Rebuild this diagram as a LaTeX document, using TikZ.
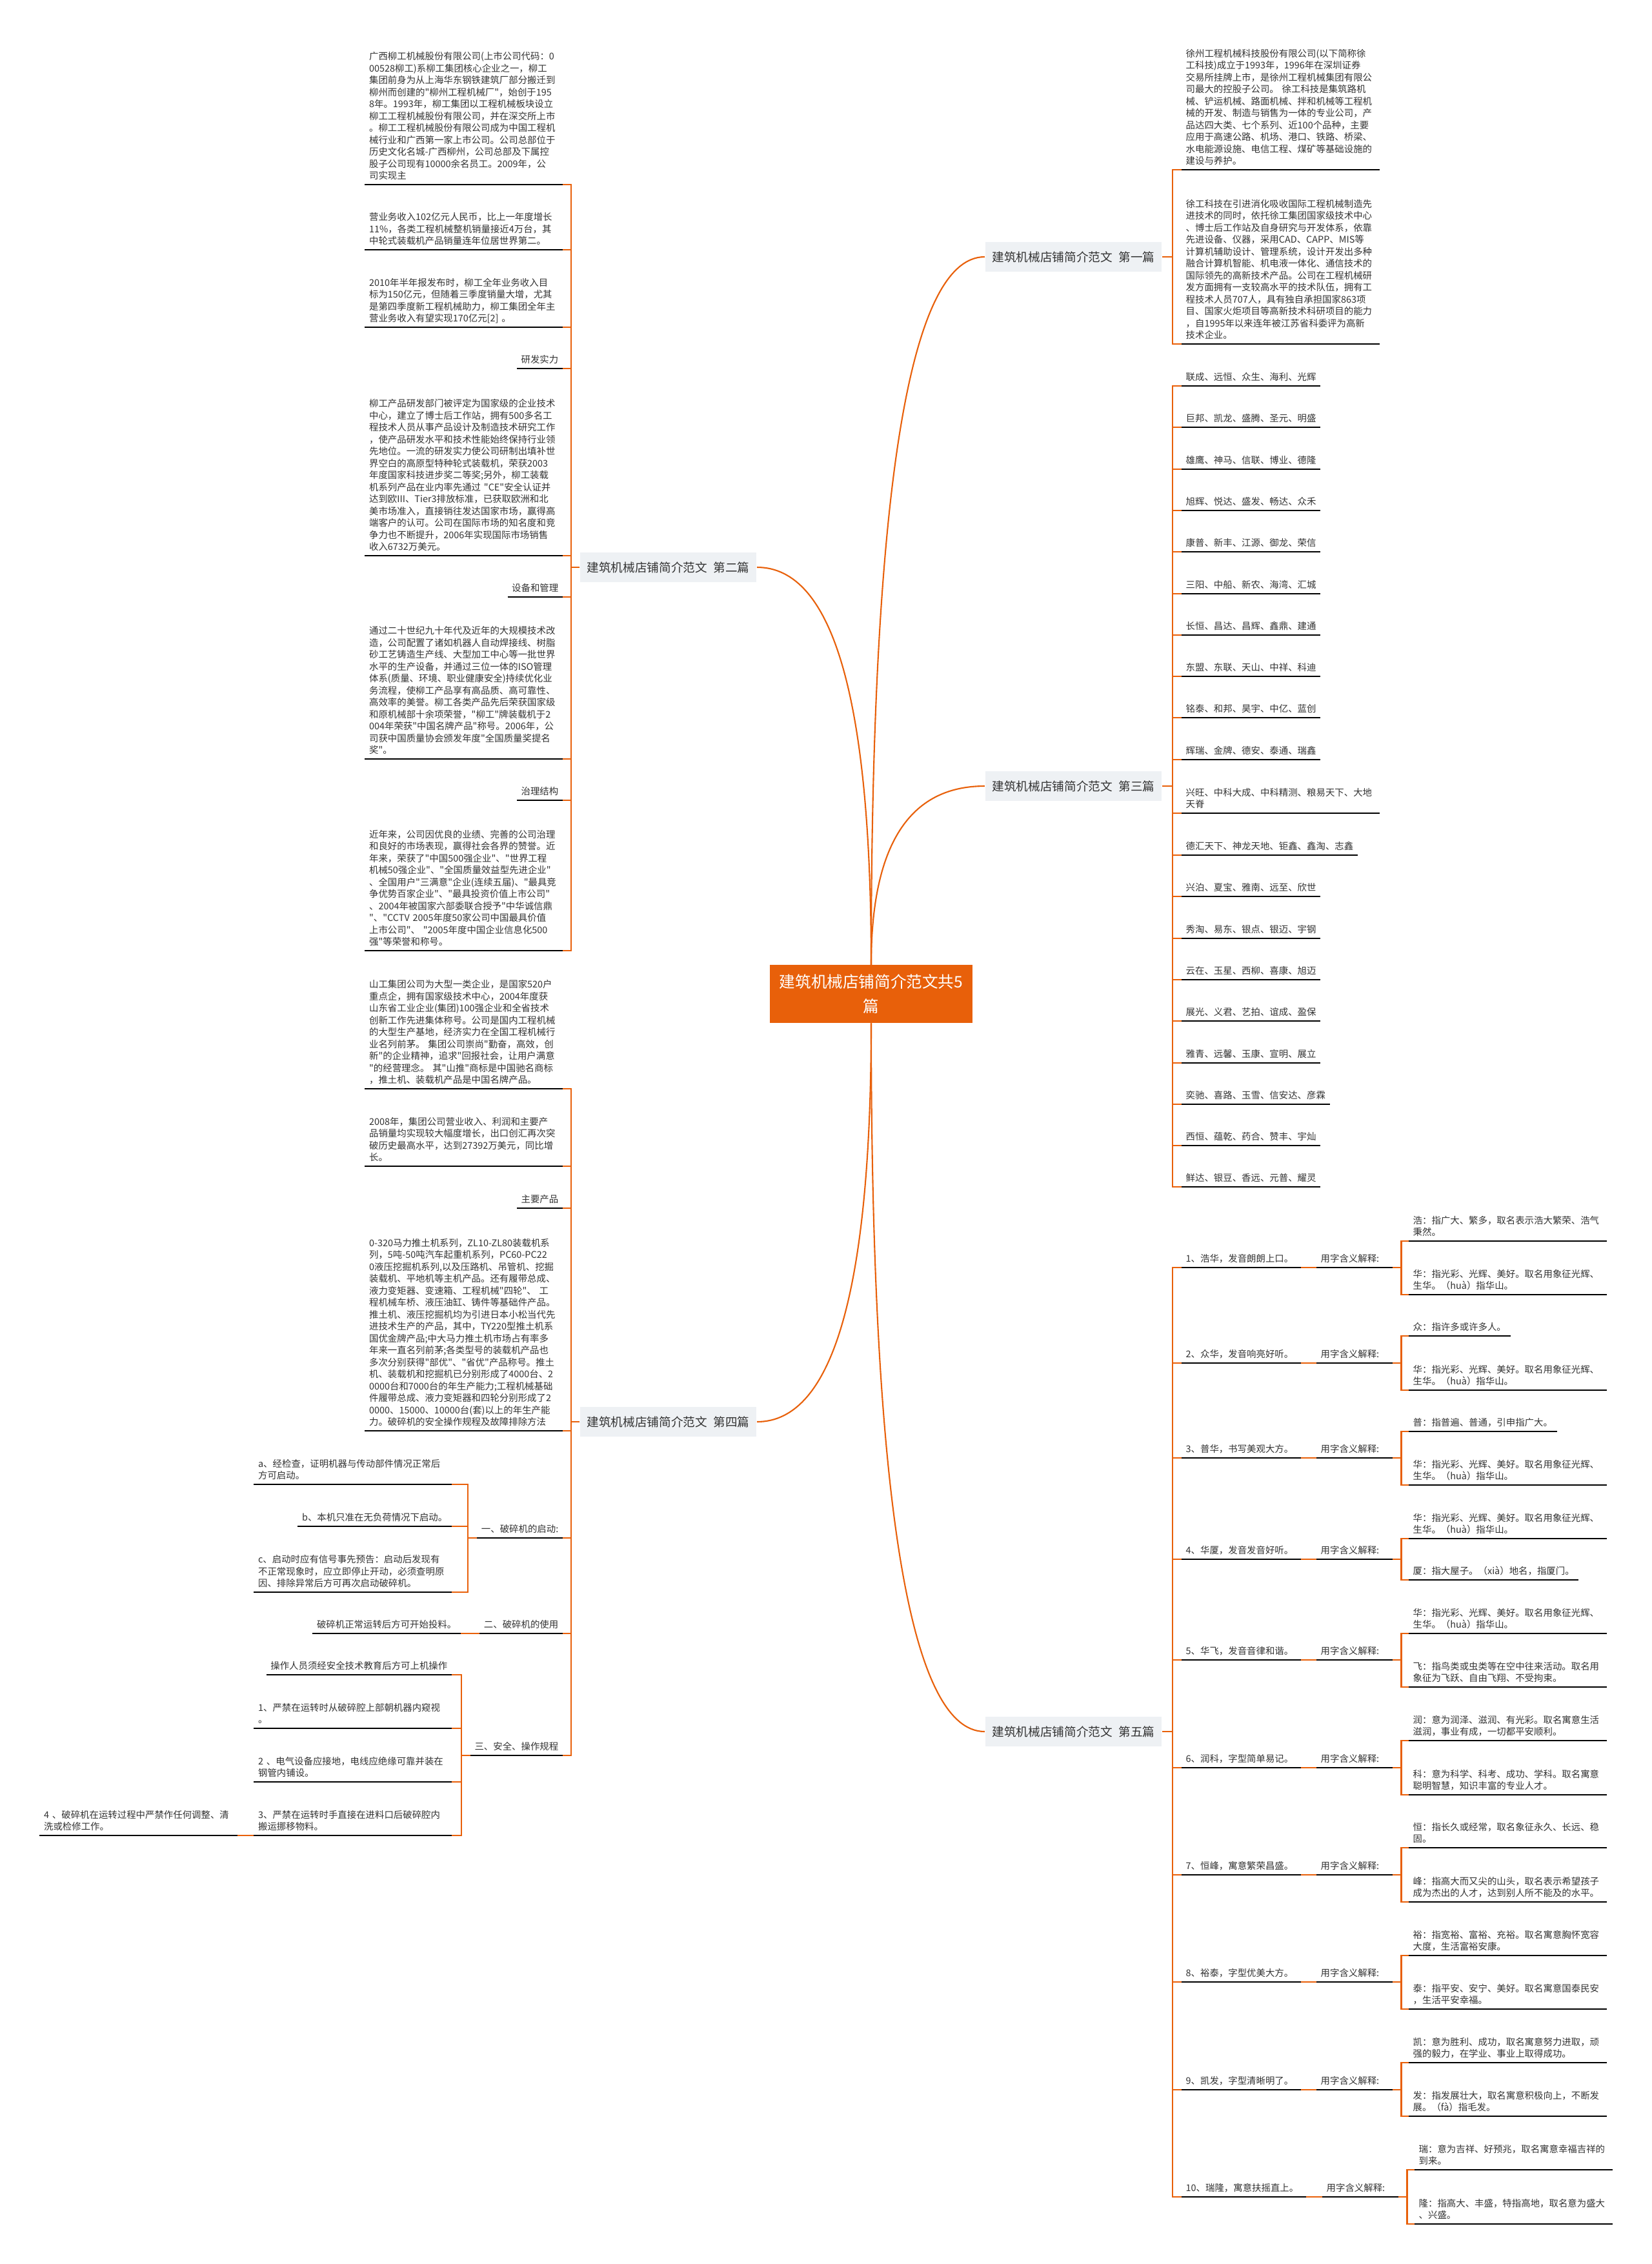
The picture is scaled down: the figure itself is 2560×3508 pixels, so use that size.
\documentclass[tikz,border=0pt]{standalone}
\usepackage{fontspec}
\setmainfont{Noto Sans CJK SC}[Ligatures=TeXOff]
\usepackage{tikz}
\usepackage{xcolor}
\usetikzlibrary{calc}

\definecolor{naranja}{HTML}{E8600A}
\definecolor{gristexto}{HTML}{333333}
\definecolor{grisfondo}{HTML}{EEF1F4}

\begin{document}
\begin{tikzpicture}[
	x=0.01cm, y=-0.01cm,
	raiz/.style={rectangle, fill=naranja, text=white, minimum width=3.13cm, minimum height=0.89cm, text width=3cm, align=center, inner sep=0pt, font=\fontsize{7pt}{10.8pt}\selectfont},
	rama/.style={rectangle, fill=grisfondo, text=gristexto, inner xsep=0.11cm, inner ysep=0pt, minimum height=0.46cm, font=\fontsize{5.3pt}{6.3pt}\selectfont},
	hoja/.style={text=gristexto, align=left, inner xsep=0.06cm, inner ysep=0.02cm, font=\fontsize{4.1pt}{5.26pt}\selectfont, execute at end node=\strut, append after command={(\tikzlastnode.south west) edge[subrayado] (\tikzlastnode.south east)}},
	bloque/.style={hoja, text width=2.93cm},
	nombre/.style={hoja, text width=1.71cm, anchor=south west},
	uso/.style={hoja, text width=1.05cm, anchor=south west},
	subrayado/.style={draw=black, line width=0.55pt},
	linea/.style={draw=naranja, line width=0.7pt},
	curva/.style={draw=naranja, line width=0.6pt}
	]

	\fill[white] (0,0) rectangle (2560,3508);
	\useasboundingbox (0,0) rectangle (2560,3508);

	%Nodo central
	\node[raiz] (raiz) at (1350,1540) {建筑机械店铺简介范文共5\\篇};

	%Ramas principales
	\node[rama, anchor=east] (p1) at (1801,398) {建筑机械店铺简介范文\enspace 第一篇};
	\node[rama, anchor=west] (p2) at (898,879) {建筑机械店铺简介范文\enspace 第二篇};
	\node[rama, anchor=east] (p3) at (1801,1218) {建筑机械店铺简介范文\enspace 第三篇};
	\node[rama, anchor=west] (p4) at (898,2203) {建筑机械店铺简介范文\enspace 第四篇};
	\node[rama, anchor=east] (p5) at (1801,2683) {建筑机械店铺简介范文\enspace 第五篇};

	\draw[curva] (raiz.north) .. controls ($(raiz.north)!0.667!(raiz.north |- p1.west)$) and ($(p1.west)!0.667!(raiz.north |- p1.west)$) .. (p1.west);
	\draw[curva] (raiz.north) .. controls ($(raiz.north)!0.667!(raiz.north |- p2.east)$) and ($(p2.east)!0.667!(raiz.north |- p2.east)$) .. (p2.east);
	\draw[curva] (raiz.north) .. controls ($(raiz.north)!0.667!(raiz.north |- p3.west)$) and ($(p3.west)!0.667!(raiz.north |- p3.west)$) .. (p3.west);
	\draw[curva] (raiz.south) .. controls ($(raiz.south)!0.667!(raiz.south |- p4.east)$) and ($(p4.east)!0.667!(raiz.south |- p4.east)$) .. (p4.east);
	\draw[curva] (raiz.south) .. controls ($(raiz.south)!0.667!(raiz.south |- p5.west)$) and ($(p5.west)!0.667!(raiz.south |- p5.west)$) .. (p5.west);

	%Hijos del primer texto
	\node[bloque, anchor=south west] (u1) at (1831,263) {徐州工程机械科技股份有限公司(以下简称徐\\工科技)成立于1993年，1996年在深圳证券\\交易所挂牌上市，是徐州工程机械集团有限公\\司最大的控股子公司。 徐工科技是集筑路机\\械、铲运机械、路面机械、拌和机械等工程机\\械的开发、制造与销售为一体的专业公司，产\\品达四大类、七个系列、近100个品种，主要\\应用于高速公路、机场、港口、铁路、桥梁、\\水电能源设施、电信工程、煤矿等基础设施的\\建设与养护。};
	\node[bloque, anchor=south west] (u2) at (1831,533) {徐工科技在引进消化吸收国际工程机械制造先\\进技术的同时，依托徐工集团国家级技术中心\\、博士后工作站及自身研究与开发体系，依靠\\先进设备、仪器，采用CAD、CAPP、MIS等\\计算机辅助设计、管理系统，设计开发出多种\\融合计算机智能、机电液一体化、通信技术的\\国际领先的高新技术产品。公司在工程机械研\\发方面拥有一支较高水平的技术队伍，拥有工\\程技术人员707人，具有独自承担国家863项\\目、国家火炬项目等高新技术科研项目的能力\\，自1995年以来连年被江苏省科委评为高新\\技术企业。};
	\draw[linea] (p1.east) -- ++(16,0) |- (u1.south west);
	\draw[linea] (p1.east) -- ++(16,0) |- (u2.south west);

	%Hijos del segundo texto
	\node[bloque, anchor=south east] (d1) at (872,286) {广西柳工机械股份有限公司(上市公司代码：0\\00528柳工)系柳工集团核心企业之一，柳工\\集团前身为从上海华东钢铁建筑厂部分搬迁到\\柳州而创建的"柳州工程机械厂"，始创于195\\8年。1993年，柳工集团以工程机械板块设立\\柳工工程机械股份有限公司，并在深交所上市\\。柳工工程机械股份有限公司成为中国工程机\\械行业和广西第一家上市公司。公司总部位于\\历史文化名城-广西柳州，公司总部及下属控\\股子公司现有10000余名员工。2009年，公\\司实现主};
	\node[bloque, anchor=south east] (d2) at (872,387) {营业务收入102亿元人民币，比上一年度增长\\11\%，各类工程机械整机销量接近4万台，其\\中轮式装载机产品销量连年位居世界第二。};
	\node[bloque, anchor=south east] (d3) at (872,507) {2010年半年报发布时，柳工全年业务收入目\\标为150亿元，但随着三季度销量大增，尤其\\是第四季度新工程机械助力，柳工集团全年主\\营业务收入有望实现170亿元[2] 。};
	\node[hoja, anchor=south east] (d4) at (872,571) {研发实力};
	\node[bloque, anchor=south east] (d5) at (872,861) {柳工产品研发部门被评定为国家级的企业技术\\中心，建立了博士后工作站，拥有500多名工\\程技术人员从事产品设计及制造技术研究工作\\，使产品研发水平和技术性能始终保持行业领\\先地位。一流的研发实力使公司研制出填补世\\界空白的高原型特种轮式装载机，荣获2003\\年度国家科技进步奖二等奖;另外，柳工装载\\机系列产品在业内率先通过 "CE"安全认证并\\达到欧III、Tier3排放标准，已获取欧洲和北\\美市场准入，直接销往发达国家市场，赢得高\\端客户的认可。公司在国际市场的知名度和竞\\争力也不断提升，2006年实现国际市场销售\\收入6732万美元。};
	\node[hoja, anchor=south east] (d6) at (872,925) {设备和管理};
	\node[bloque, anchor=south east] (d7) at (872,1176) {通过二十世纪九十年代及近年的大规模技术改\\造，公司配置了诸如机器人自动焊接线、树脂\\砂工艺铸造生产线、大型加工中心等一批世界\\水平的生产设备，并通过三位一体的ISO管理\\体系(质量、环境、职业健康安全)持续优化业\\务流程，使柳工产品享有高品质、高可靠性、\\高效率的美誉。柳工各类产品先后荣获国家级\\和原机械部十余项荣誉，"柳工"牌装载机于2\\004年荣获"中国名牌产品"称号。2006年，公\\司获中国质量协会颁发年度"全国质量奖提名\\奖"。};
	\node[hoja, anchor=south east] (d8) at (872,1240) {治理结构};
	\node[bloque, anchor=south east] (d9) at (872,1473) {近年来，公司因优良的业绩、完善的公司治理\\和良好的市场表现，赢得社会各界的赞誉。近\\年来，荣获了"中国500强企业"、"世界工程\\机械50强企业"、"全国质量效益型先进企业"\\、全国用户"三满意"企业(连续五届)、"最具竞\\争优势百家企业"、"最具投资价值上市公司"\\、2004年被国家六部委联合授予"中华诚信鼎\\"、"CCTV 2005年度50家公司中国最具价值\\上市公司"、 "2005年度中国企业信息化500\\强"等荣誉和称号。};
	\draw[linea] (p2.west) -- ++(-13,0) |- (d1.south east);
	\draw[linea] (p2.west) -- ++(-13,0) |- (d2.south east);
	\draw[linea] (p2.west) -- ++(-13,0) |- (d3.south east);
	\draw[linea] (p2.west) -- ++(-13,0) |- (d4.south east);
	\draw[linea] (p2.west) -- ++(-13,0) |- (d5.south east);
	\draw[linea] (p2.west) -- ++(-13,0) |- (d6.south east);
	\draw[linea] (p2.west) -- ++(-13,0) |- (d7.south east);
	\draw[linea] (p2.west) -- ++(-13,0) |- (d8.south east);
	\draw[linea] (p2.west) -- ++(-13,0) |- (d9.south east);

	%Hijos del tercer texto
	\node[hoja, anchor=south west] (t1) at (1831,598) {联成、远恒、众生、海利、光辉};
	\node[hoja, anchor=south west] (t2) at (1831,662) {巨邦、凯龙、盛腾、圣元、明盛};
	\node[hoja, anchor=south west] (t3) at (1831,727) {雄鹰、神马、信联、博业、德隆};
	\node[hoja, anchor=south west] (t4) at (1831,791) {旭辉、悦达、盛发、畅达、众禾};
	\node[hoja, anchor=south west] (t5) at (1831,855) {康普、新丰、江源、御龙、荣信};
	\node[hoja, anchor=south west] (t6) at (1831,920) {三阳、中船、新农、海湾、汇城};
	\node[hoja, anchor=south west] (t7) at (1831,984) {长恒、昌达、昌辉、鑫鼎、建通};
	\node[hoja, anchor=south west] (t8) at (1831,1048) {东盟、东联、天山、中祥、科迪};
	\node[hoja, anchor=south west] (t9) at (1831,1112) {铭泰、和邦、昊宇、中亿、蓝创};
	\node[hoja, anchor=south west] (t10) at (1831,1177) {辉瑞、金牌、德安、泰通、瑞鑫};
	\node[bloque, anchor=south west] (t11) at (1831,1260) {兴旺、中科大成、中科精测、粮易天下、大地\\天脊};
	\node[hoja, anchor=south west] (t12) at (1831,1325) {德汇天下、神龙天地、钜鑫、鑫淘、志鑫};
	\node[hoja, anchor=south west] (t13) at (1831,1389) {兴泊、夏宝、雅南、远至、欣世};
	\node[hoja, anchor=south west] (t14) at (1831,1454) {秀淘、易东、银点、银迈、宇钢};
	\node[hoja, anchor=south west] (t15) at (1831,1518) {云在、玉星、西柳、喜康、旭迈};
	\node[hoja, anchor=south west] (t16) at (1831,1582) {展光、义君、艺拍、谊成、盈保};
	\node[hoja, anchor=south west] (t17) at (1831,1647) {雅青、远馨、玉康、宣明、展立};
	\node[hoja, anchor=south west] (t18) at (1831,1711) {奕驰、喜路、玉雪、信安达、彦霖};
	\node[hoja, anchor=south west] (t19) at (1831,1775) {西恒、蕴乾、药合、赞丰、宇灿};
	\node[hoja, anchor=south west] (t20) at (1831,1839) {鲜达、银豆、香远、元普、耀灵};
	\draw[linea] (p3.east) -- ++(16,0) |- (t1.south west);
	\draw[linea] (p3.east) -- ++(16,0) |- (t2.south west);
	\draw[linea] (p3.east) -- ++(16,0) |- (t3.south west);
	\draw[linea] (p3.east) -- ++(16,0) |- (t4.south west);
	\draw[linea] (p3.east) -- ++(16,0) |- (t5.south west);
	\draw[linea] (p3.east) -- ++(16,0) |- (t6.south west);
	\draw[linea] (p3.east) -- ++(16,0) |- (t7.south west);
	\draw[linea] (p3.east) -- ++(16,0) |- (t8.south west);
	\draw[linea] (p3.east) -- ++(16,0) |- (t9.south west);
	\draw[linea] (p3.east) -- ++(16,0) |- (t10.south west);
	\draw[linea] (p3.east) -- ++(16,0) |- (t11.south west);
	\draw[linea] (p3.east) -- ++(16,0) |- (t12.south west);
	\draw[linea] (p3.east) -- ++(16,0) |- (t13.south west);
	\draw[linea] (p3.east) -- ++(16,0) |- (t14.south west);
	\draw[linea] (p3.east) -- ++(16,0) |- (t15.south west);
	\draw[linea] (p3.east) -- ++(16,0) |- (t16.south west);
	\draw[linea] (p3.east) -- ++(16,0) |- (t17.south west);
	\draw[linea] (p3.east) -- ++(16,0) |- (t18.south west);
	\draw[linea] (p3.east) -- ++(16,0) |- (t19.south west);
	\draw[linea] (p3.east) -- ++(16,0) |- (t20.south west);

	%Hijos del cuarto texto
	\node[bloque, anchor=south east] (c1) at (872,1687) {山工集团公司为大型一类企业，是国家520户\\重点企，拥有国家级技术中心，2004年度获\\山东省工业企业(集团)100强企业和全省技术\\创新工作先进集体称号。公司是国内工程机械\\的大型生产基地，经济实力在全国工程机械行\\业名列前茅。 集团公司崇尚"勤奋，高效，创\\新"的企业精神，追求"回报社会，让用户满意\\"的经营理念。 其"山推"商标是中国驰名商标\\，推土机、装载机产品是中国名牌产品。};
	\node[bloque, anchor=south east] (c2) at (872,1807) {2008年，集团公司营业收入、利润和主要产\\品销量均实现较大幅度增长，出口创汇再次突\\破历史最高水平，达到27392万美元，同比增\\长。};
	\node[hoja, anchor=south east] (c3) at (872,1872) {主要产品};
	\node[bloque, anchor=south east] (c4) at (872,2217) {0-320马力推土机系列，ZL10-ZL80装载机系\\列，5吨-50吨汽车起重机系列，PC60-PC22\\0液压挖掘机系列,以及压路机、吊管机、挖掘\\装载机、平地机等主机产品。还有履带总成、\\液力变矩器、变速箱、工程机械"四轮"、 工\\程机械车桥、液压油缸、铸件等基础件产品。\\推土机、液压挖掘机均为引进日本小松当代先\\进技术生产的产品，其中，TY220型推土机系\\国优金牌产品;中大马力推土机市场占有率多\\年来一直名列前茅;各类型号的装载机产品也\\多次分别获得"部优"、"省优"产品称号。推土\\机、装载机和挖掘机已分别形成了4000台、2\\0000台和7000台的年生产能力;工程机械基础\\件履带总成、液力变矩器和四轮分别形成了2\\0000、15000、10000台(套)以上的年生产能\\力。破碎机的安全操作规程及故障排除方法};
	\node[hoja, anchor=south east] (c5) at (872,2383) {一、破碎机的启动:};
	\node[hoja, anchor=south east] (c6) at (872,2531) {二、破碎机的使用};
	\node[hoja, anchor=south east] (c7) at (872,2720) {三、安全、操作规程};
	\draw[linea] (p4.west) -- ++(-13,0) |- (c1.south east);
	\draw[linea] (p4.west) -- ++(-13,0) |- (c2.south east);
	\draw[linea] (p4.west) -- ++(-13,0) |- (c3.south east);
	\draw[linea] (p4.west) -- ++(-13,0) |- (c4.south east);
	\draw[linea] (p4.west) -- ++(-13,0) |- (c5.south east);
	\draw[linea] (p4.west) -- ++(-13,0) |- (c6.south east);
	\draw[linea] (p4.west) -- ++(-13,0) |- (c7.south east);

	%Arranque, uso y seguridad
	\node[bloque, anchor=south east] (c51) at (700,2300) {a、经检查，证明机器与传动部件情况正常后\\方可启动。};
	\node[hoja, anchor=south east] (c52) at (700,2365) {b、本机只准在无负荷情况下启动。};
	\node[bloque, anchor=south east] (c53) at (700,2467) {c、启动时应有信号事先预告：启动后发现有\\不正常现象时，应立即停止开动，必须查明原\\因、排除异常后方可再次启动破碎机。};
	\draw[linea] (c5.south west) -- ++(-14,0) |- (c51.south east);
	\draw[linea] (c5.south west) -- ++(-14,0) |- (c52.south east);
	\draw[linea] (c5.south west) -- ++(-14,0) |- (c53.south east);

	\node[hoja, anchor=south east] (c61) at (714,2531) {破碎机正常运转后方可开始投料。};
	\draw[linea] (c6.south west) -- (c61.south east);

	\node[hoja, anchor=south east] (c71) at (700,2595) {操作人员须经安全技术教育后方可上机操作};
	\node[bloque, anchor=south east] (c72) at (700,2678) {1、严禁在运转时从破碎腔上部朝机器内窥视\\。};
	\node[bloque, anchor=south east] (c73) at (700,2761) {2 、电气设备应接地，电线应绝缘可靠并装在\\钢管内铺设。};
	\node[bloque, anchor=south east] (c74) at (700,2844) {3、严禁在运转时手直接在进料口后破碎腔内\\搬运挪移物料。};
	\draw[linea] (c7.south west) -- ++(-14,0) |- (c71.south east);
	\draw[linea] (c7.south west) -- ++(-14,0) |- (c72.south east);
	\draw[linea] (c7.south west) -- ++(-14,0) |- (c73.south east);
	\draw[linea] (c7.south west) -- ++(-14,0) |- (c74.south east);

	\node[bloque, anchor=south east] (c741) at (368,2844) {4 、破碎机在运转过程中严禁作任何调整、清\\洗或检修工作。};
	\draw[linea] (c74.south west) -- (c741.south east);

	%Hijos del quinto texto
	\node[nombre] (n1) at (1831,1964) {1、浩华，发音朗朗上口。};
	\node[uso] (y1) at (2040,1964) {用字含义解释:};
	\node[bloque, anchor=south west] (s1a) at (2183,1923) {浩：指广大、繁多，取名表示浩大繁荣、浩气\\秉然。};
	\node[bloque, anchor=south west] (s1b) at (2183,2006) {华：指光彩、光辉、美好。取名用象征光辉、\\生华。（huà）指华山。};

	\node[nombre] (n2) at (1831,2112) {2、众华，发音响亮好听。};
	\node[uso] (y2) at (2040,2112) {用字含义解释:};
	\node[hoja, anchor=south west] (s2a) at (2183,2070) {众：指许多或许多人。};
	\node[bloque, anchor=south west] (s2b) at (2183,2154) {华：指光彩、光辉、美好。取名用象征光辉、\\生华。（huà）指华山。};

	\node[nombre] (n3) at (1831,2259) {3、普华，书写美观大方。};
	\node[uso] (y3) at (2040,2259) {用字含义解释:};
	\node[hoja, anchor=south west] (s3a) at (2183,2218) {普：指普遍、普通，引申指广大。};
	\node[bloque, anchor=south west] (s3b) at (2183,2301) {华：指光彩、光辉、美好。取名用象征光辉、\\生华。（huà）指华山。};

	\node[nombre] (n4) at (1831,2416) {4、华厦，发音发音好听。};
	\node[uso] (y4) at (2040,2416) {用字含义解释:};
	\node[bloque, anchor=south west] (s4a) at (2183,2384) {华：指光彩、光辉、美好。取名用象征光辉、\\生华。（huà）指华山。};
	\node[hoja, anchor=south west] (s4b) at (2183,2448) {厦：指大屋子。（xià）地名，指厦门。};

	\node[nombre] (n5) at (1831,2572) {5、华飞，发音音律和谐。};
	\node[uso] (y5) at (2040,2572) {用字含义解释:};
	\node[bloque, anchor=south west] (s5a) at (2183,2531) {华：指光彩、光辉、美好。取名用象征光辉、\\生华。（huà）指华山。};
	\node[bloque, anchor=south west] (s5b) at (2183,2614) {飞：指鸟类或虫类等在空中往来活动。取名用\\象征为飞跃、自由飞翔、不受拘束。};

	\node[nombre] (n6) at (1831,2739) {6、润科，字型简单易记。};
	\node[uso] (y6) at (2040,2739) {用字含义解释:};
	\node[bloque, anchor=south west] (s6a) at (2183,2697) {润：意为润泽、滋润、有光彩。取名寓意生活\\滋润，事业有成，一切都平安顺利。};
	\node[bloque, anchor=south west] (s6b) at (2183,2781) {科：意为科学、科考、成功、学科。取名寓意\\聪明智慧，知识丰富的专业人才。};

	\node[nombre] (n7) at (1831,2905) {7、恒峰，寓意繁荣昌盛。};
	\node[uso] (y7) at (2040,2905) {用字含义解释:};
	\node[bloque, anchor=south west] (s7a) at (2183,2863) {恒：指长久或经常，取名象征永久、长远、稳\\固。};
	\node[bloque, anchor=south west] (s7b) at (2183,2947) {峰：指高大而又尖的山头，取名表示希望孩子\\成为杰出的人才，达到别人所不能及的水平。};

	\node[nombre] (n8) at (1831,3071) {8、裕泰，字型优美大方。};
	\node[uso] (y8) at (2040,3071) {用字含义解释:};
	\node[bloque, anchor=south west] (s8a) at (2183,3030) {裕：指宽裕、富裕、充裕。取名寓意胸怀宽容\\大度，生活富裕安康。};
	\node[bloque, anchor=south west] (s8b) at (2183,3113) {泰：指平安、安宁、美好。取名寓意国泰民安\\，生活平安幸福。};

	\node[nombre] (n9) at (1831,3238) {9、凯发，字型清晰明了。};
	\node[uso] (y9) at (2040,3238) {用字含义解释:};
	\node[bloque, anchor=south west] (s9a) at (2183,3196) {凯：意为胜利、成功，取名寓意努力进取，顽\\强的毅力，在学业、事业上取得成功。};
	\node[bloque, anchor=south west] (s9b) at (2183,3279) {发：指发展壮大，取名寓意积极向上，不断发\\展。（fà）指毛发。};

	\node[nombre, text width=1.79cm] (n10) at (1831,3404) {10、瑞隆，寓意扶摇直上。};
	\node[uso] (y10) at (2049,3404) {用字含义解释:};
	\node[bloque, anchor=south west] (s10a) at (2192,3362) {瑞：意为吉祥、好预兆，取名寓意幸福吉祥的\\到来。};
	\node[bloque, anchor=south west] (s10b) at (2192,3446) {隆：指高大、丰盛，特指高地，取名意为盛大\\、兴盛。};

	%Aristas del quinto texto
	\draw[linea] (p5.east) -- ++(16,0) |- (n1.south west);
	\draw[linea] (p5.east) -- ++(16,0) |- (n2.south west);
	\draw[linea] (p5.east) -- ++(16,0) |- (n3.south west);
	\draw[linea] (p5.east) -- ++(16,0) |- (n4.south west);
	\draw[linea] (p5.east) -- ++(16,0) |- (n5.south west);
	\draw[linea] (p5.east) -- ++(16,0) |- (n6.south west);
	\draw[linea] (p5.east) -- ++(16,0) |- (n7.south west);
	\draw[linea] (p5.east) -- ++(16,0) |- (n8.south west);
	\draw[linea] (p5.east) -- ++(16,0) |- (n9.south west);
	\draw[linea] (p5.east) -- ++(16,0) |- (n10.south west);
	\draw[linea] (n1.south east) -- (y1.south west);
	\draw[linea] (n2.south east) -- (y2.south west);
	\draw[linea] (n3.south east) -- (y3.south west);
	\draw[linea] (n4.south east) -- (y4.south west);
	\draw[linea] (n5.south east) -- (y5.south west);
	\draw[linea] (n6.south east) -- (y6.south west);
	\draw[linea] (n7.south east) -- (y7.south west);
	\draw[linea] (n8.south east) -- (y8.south west);
	\draw[linea] (n9.south east) -- (y9.south west);
	\draw[linea] (n10.south east) -- (y10.south west);
	\draw[linea] (y1.south east) -- ++(13,0) |- (s1a.south west);
	\draw[linea] (y1.south east) -- ++(13,0) |- (s1b.south west);
	\draw[linea] (y2.south east) -- ++(13,0) |- (s2a.south west);
	\draw[linea] (y2.south east) -- ++(13,0) |- (s2b.south west);
	\draw[linea] (y3.south east) -- ++(13,0) |- (s3a.south west);
	\draw[linea] (y3.south east) -- ++(13,0) |- (s3b.south west);
	\draw[linea] (y4.south east) -- ++(13,0) |- (s4a.south west);
	\draw[linea] (y4.south east) -- ++(13,0) |- (s4b.south west);
	\draw[linea] (y5.south east) -- ++(13,0) |- (s5a.south west);
	\draw[linea] (y5.south east) -- ++(13,0) |- (s5b.south west);
	\draw[linea] (y6.south east) -- ++(13,0) |- (s6a.south west);
	\draw[linea] (y6.south east) -- ++(13,0) |- (s6b.south west);
	\draw[linea] (y7.south east) -- ++(13,0) |- (s7a.south west);
	\draw[linea] (y7.south east) -- ++(13,0) |- (s7b.south west);
	\draw[linea] (y8.south east) -- ++(13,0) |- (s8a.south west);
	\draw[linea] (y8.south east) -- ++(13,0) |- (s8b.south west);
	\draw[linea] (y9.south east) -- ++(13,0) |- (s9a.south west);
	\draw[linea] (y9.south east) -- ++(13,0) |- (s9b.south west);
	\draw[linea] (y10.south east) -- ++(13,0) |- (s10a.south west);
	\draw[linea] (y10.south east) -- ++(13,0) |- (s10b.south west);

\end{tikzpicture}
\end{document}
